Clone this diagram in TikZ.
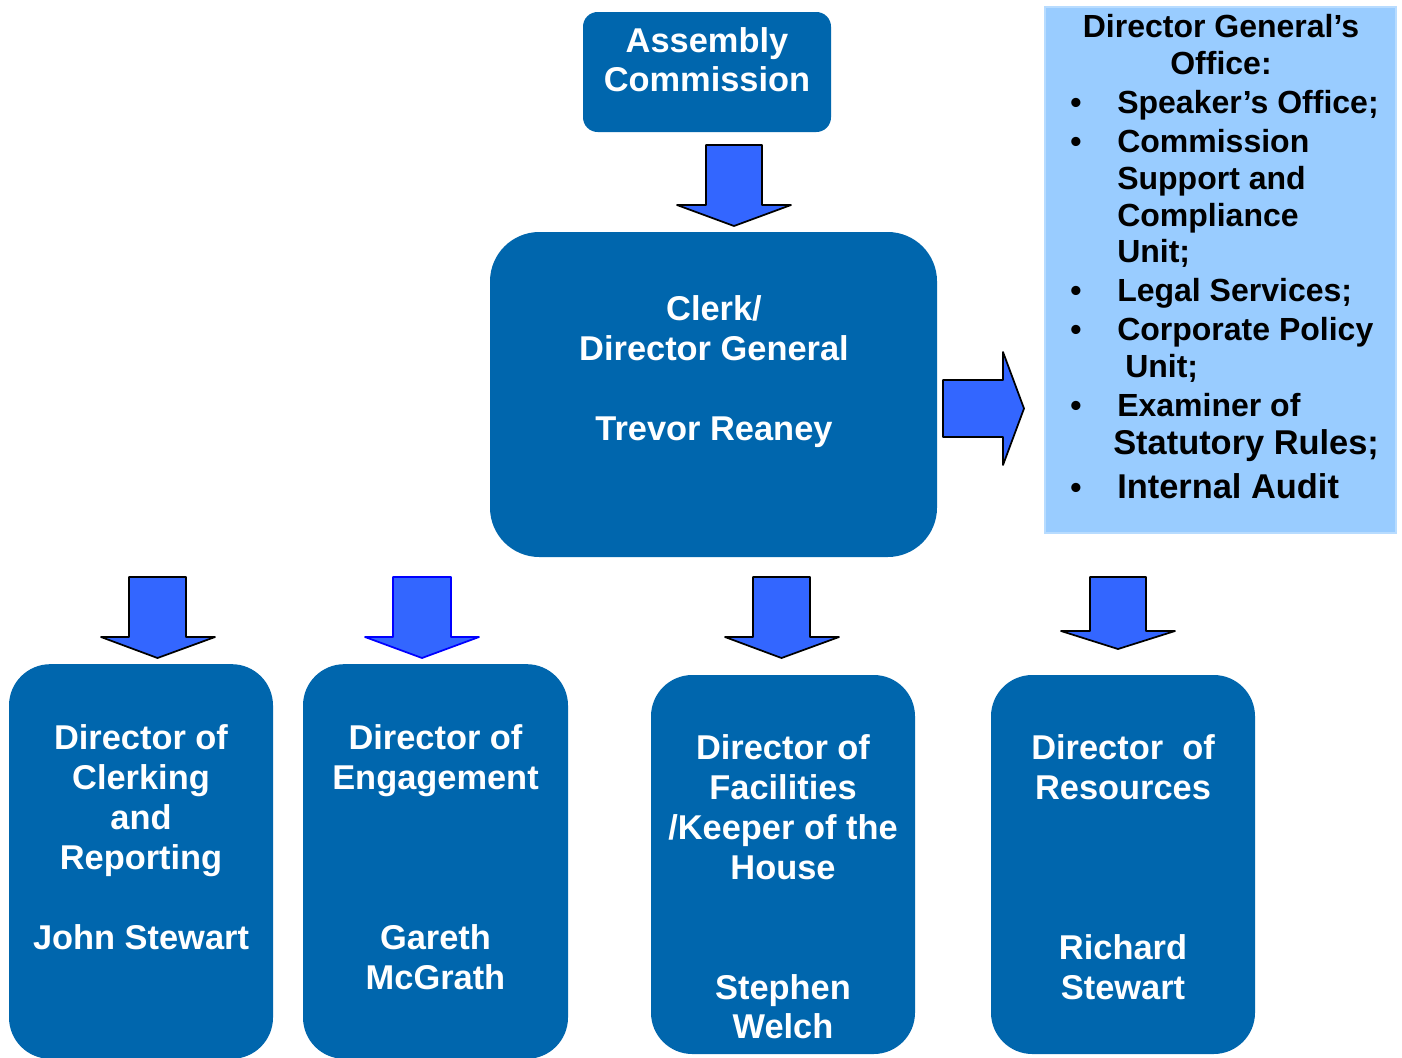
\documentclass[tikz,border=0pt]{standalone}
\usepackage{fontspec}
\setmainfont{Liberation Sans}
\definecolor{boxblue}{HTML}{0066AD}
\definecolor{arrowblue}{HTML}{3366FF}
\definecolor{lightblue}{HTML}{99CCFF}
\definecolor{lightedge}{HTML}{B8DCFF}
\begin{document}
\begin{tikzpicture}[x=0.75pt,y=-0.75pt,
  box/.style={fill=boxblue, draw=none, inner sep=0pt},
  wt/.style={text=white, font=\bfseries\fontsize{25.8}{30}\selectfont, inner sep=0pt, anchor=base},
  bk/.style={text=black, font=\bfseries\fontsize{24}{28}\selectfont, inner sep=0pt, anchor=base west},
  bkbig/.style={bk, font=\bfseries\fontsize{25.8}{30}\selectfont},
  bkc/.style={bk, anchor=base},
  bul/.style={text=black, font=\bfseries\fontsize{24}{28}\selectfont, inner sep=0pt, anchor=base},
  barrow/.style={fill=arrowblue, draw=black, line width=1.3pt, line join=round}]
\useasboundingbox (0,0) rectangle (1402,1057);
\fill[white] (0,0) rectangle (1402,1057);

% boxes
\node[box, rounded corners=11pt, minimum width=186pt, minimum height=90pt] (ac) at (707,72) {};
\node[box, rounded corners=37pt, minimum width=335.25pt, minimum height=243.75pt] (clerk) at (713.5,394.5) {};
\node[fill=lightblue, draw=lightedge, line width=0.8pt, inner sep=0pt, minimum width=263.25pt, minimum height=394.5pt] (dgo) at (1220.5,270) {};
\node[box, rounded corners=31pt, minimum width=198pt, minimum height=296pt] (b1) at (141,861.5) {};
\node[box, rounded corners=31pt, minimum width=198.75pt, minimum height=296pt] (b2) at (435.5,861.5) {};
\node[box, rounded corners=31pt, minimum width=198pt, minimum height=284.25pt] (b3) at (783,864.5) {};
\node[box, rounded corners=31pt, minimum width=198pt, minimum height=284.25pt] (b4) at (1123,864.5) {};

% block arrows
\draw[barrow] (706,145) -- (762,145) -- (762,205) -- (791,205) -- (734,226) -- (677,205) -- (706,205) -- cycle;
\draw[barrow] (943,380) -- (1003,380) -- (1003,352) -- (1024,408.5) -- (1003,465) -- (1003,437) -- (943,437) -- cycle;
\draw[barrow] (129,577) -- (186,577) -- (186,637) -- (215,637) -- (157.5,658) -- (101,637) -- (129,637) -- cycle;
\draw[barrow, draw=blue] (393,577) -- (451,577) -- (451,637) -- (479,637) -- (422,658) -- (365,637) -- (393,637) -- cycle;
\draw[barrow] (753,577) -- (810,577) -- (810,637) -- (839,637) -- (781.5,658) -- (725,637) -- (753,637) -- cycle;
\draw[barrow] (1090,577) -- (1146,577) -- (1146,631) -- (1175,631) -- (1118,649) -- (1061,631) -- (1090,631) -- cycle;

% texts
\node[wt] (ac1) at (707,52) {Assembly};
\node[wt] (ac2) at (707,91) {Commission};

\node[wt] (c1) at (714,320) {Clerk/};
\node[wt] (c2) at (714,360) {Director General};
\node[wt] (c3) at (714,440) {Trevor Reaney};

\node[wt] (p1) at (141,749) {Director of};
\node[wt] (p2) at (141,789) {Clerking};
\node[wt] (p3) at (141,829) {and};
\node[wt] (p4) at (141,869) {Reporting};
\node[wt] (p5) at (141,949) {John Stewart};

\node[wt] (q1) at (435.5,749) {Director of};
\node[wt] (q2) at (435.5,789) {Engagement};
\node[wt] (q3) at (435.5,949) {Gareth};
\node[wt] (q4) at (435.5,989) {McGrath};

\node[wt] (r1) at (783,759) {Director of};
\node[wt] (r2) at (783,799) {Facilities};
\node[wt] (r3) at (783,839) {/Keeper of the};
\node[wt] (r4) at (783,879) {House};
\node[wt] (r5) at (783,999) {Stephen};
\node[wt] (r6) at (783,1038) {Welch};

\node[wt] (s1) at (1123,759) {Director\ \ of};
\node[wt] (s2) at (1123,799) {Resources};
\node[wt] (s3) at (1123,959) {Richard};
\node[wt] (s4) at (1123,999) {Stewart};

% director general's office list
\node[bkc] (d1) at (1221,37) {Director General’s};
\node[bkc] (d2) at (1221,74) {Office:};
\node[bul] (u1) at (1076,113) {•};
\node[bk] (e1) at (1117,113) {Speaker’s Office;};
\node[bul] (u2) at (1076,152) {•};
\node[bk] (e2) at (1117,152) {Commission};
\node[bk] (e3) at (1117,189) {Support and};
\node[bk] (e4) at (1117,226) {Compliance};
\node[bk] (e5) at (1117,262) {Unit;};
\node[bul] (u3) at (1076,301) {•};
\node[bk] (e6) at (1117,301) {Legal Services;};
\node[bul] (u4) at (1076,340) {•};
\node[bk] (e7) at (1117,340) {Corporate Policy};
\node[bk] (e8) at (1125,377) {Unit;};
\node[bul] (u5) at (1076,416) {•};
\node[bk] (e9) at (1117,416) {Examiner of};
\node[bkbig] (e10) at (1113,454) {Statutory Rules;};
\node[bul] (u6) at (1076,498) {•};
\node[bkbig] (e11) at (1117,498) {Internal Audit};
\end{tikzpicture}
\end{document}
